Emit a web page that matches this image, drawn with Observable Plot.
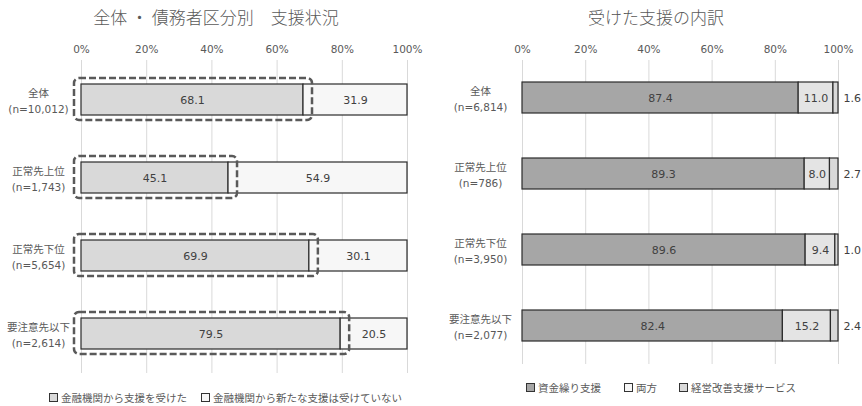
<!DOCTYPE html>
<html><head><meta charset="utf-8">
<script src="https://cdn.jsdelivr.net/npm/d3@7"></script>
<script src="https://cdn.jsdelivr.net/npm/@observablehq/plot@0.6"></script>
<style>
body{margin:0;background:#fff;font-family:"Noto Sans CJK JP",sans-serif;}
#wrap{position:relative;width:862px;height:406px;overflow:hidden;background:#fff;}
.panel{position:absolute;top:0;width:431px;height:406px;}
.title{position:absolute;top:4px;font-size:17px;font-weight:300;color:#595959;white-space:nowrap;transform:translateX(-50%);}
.chart{position:absolute;top:30px;left:0;}
.legend{position:absolute;left:0;width:431px;height:16px;font-size:10.5px;color:#595959;}
.item{position:absolute;top:0;display:flex;align-items:center;white-space:nowrap;height:16px;}
.sw{display:inline-block;width:7px;height:7px;border:1.2px solid #333;margin-right:3px;}
</style></head><body>
<div id="wrap">
  <div class="panel" id="pl" style="left:0">
    <div class="title" style="left:216px">全体 ・ 債務者区分別　支援状況</div>
    <div class="chart" id="cl"></div>
    <div class="legend" id="ll" style="top:389px"></div>
  </div>
  <div class="panel" id="pr" style="left:431px">
    <div class="title" style="left:225px">受けた支援の内訳</div>
    <div class="chart" id="cr"></div>
    <div class="legend" id="lr" style="top:379px"></div>
  </div>
</div>
<script>
const cats = ["全体", "正常先上位", "正常先下位", "要注意先以下"];
const xTicks = [0, 20, 40, 60, 80, 100];

// left chart
const leftN = ["10,012", "1,743", "5,654", "2,614"];
const received = [68.1, 45.1, 69.9, 79.5];
const notReceived = [31.9, 54.9, 30.1, 20.5];
const leftSeries = ["金融機関から支援を受けた", "金融機関から新たな支援は受けていない"];
const leftColors = ["#d9d9d9", "#f7f7f7"];

// right chart
const rightN = ["6,814", "786", "3,950", "2,077"];
const fundSupport = [87.4, 89.3, 89.6, 82.4];
const both = [11.0, 8.0, 9.4, 15.2];
const mgmtSupport = [1.6, 2.7, 1.0, 2.4];
const rightSeries = ["資金繰り支援", "両方", "経営改善支援サービス"];
const rightColors = ["#a6a6a6", "#e4e4e4", "#d9d9d9"];

const FONT = '"DejaVu Sans", "Noto Sans CJK JP", sans-serif';

const leftRows = cats.flatMap((c, i) => [
  {cat: c, series: leftSeries[0], value: received[i]},
  {cat: c, series: leftSeries[1], value: notReceived[i]}
]);
const leftCats = cats.map((c, i) => ({cat: c, label: `${c}\n(n=${leftN[i]})`, received: received[i]}));

const left = Plot.plot({
  width: 431, height: 346,
  marginTop: 30, marginBottom: 3, marginLeft: 81, marginRight: 24,
  style: {fontFamily: FONT, fontSize: "10.5px", color: "#595959", background: "transparent", overflow: "visible"},
  x: {domain: [0, 100], ticks: xTicks, tickFormat: d => d + "%", axis: "top", tickSize: 0, tickPadding: 8, label: null},
  y: {domain: cats, paddingInner: 0.6, paddingOuter: 0.3, axis: null},
  color: {domain: leftSeries, range: leftColors},
  marks: [
    Plot.gridX(xTicks, {stroke: "#d9d9d9", strokeOpacity: 1, strokeWidth: 1}),
    Plot.barX(leftRows, Plot.stackX({x: "value", y: "cat", fill: "series", stroke: "#2b2b2b", strokeWidth: 1.2})),
    Plot.text(leftRows, Plot.stackX({x: "value", y: "cat", z: "series", text: d => d.value.toFixed(1), fill: "#404040", fontSize: 11})),
    Plot.barX(leftCats, {x1: 0, x2: "received", y: "cat", fill: "none", stroke: "#595959", strokeWidth: 2.5,
      strokeDasharray: "7,3", rx: 5, insetLeft: -7, insetRight: -9, insetTop: -6, insetBottom: -5}),
    Plot.text(leftCats, {y: "cat", text: "label", frameAnchor: "left", dx: -43, textAnchor: "middle",
      fontSize: 10.5, lineHeight: 1.55, fill: "#595959"})
  ]
});
document.getElementById("cl").appendChild(left);

const rightRows = cats.flatMap((c, i) => [
  {cat: c, series: rightSeries[0], value: fundSupport[i]},
  {cat: c, series: rightSeries[1], value: both[i]},
  {cat: c, series: rightSeries[2], value: mgmtSupport[i]}
]);
const rightCats = cats.map((c, i) => ({cat: c, label: `${c}\n(n=${rightN[i]})`}));

const right = Plot.plot({
  width: 431, height: 337,
  marginTop: 30, marginBottom: 3, marginLeft: 91, marginRight: 24,
  style: {fontFamily: FONT, fontSize: "10.5px", color: "#595959", background: "transparent", overflow: "visible"},
  x: {domain: [0, 100], ticks: xTicks, tickFormat: d => d + "%", axis: "top", tickSize: 0, tickPadding: 8, label: null},
  y: {domain: cats, paddingInner: 0.59, paddingOuter: 0.295, axis: null},
  color: {domain: rightSeries, range: rightColors},
  marks: [
    Plot.gridX(xTicks, {stroke: "#d9d9d9", strokeOpacity: 1, strokeWidth: 1}),
    Plot.barX(rightRows, Plot.stackX({x: "value", y: "cat", fill: "series", stroke: "#2b2b2b", strokeWidth: 1.2})),
    Plot.text(rightRows, Plot.stackX({x: "value", y: "cat", z: "series",
      text: d => d.series === rightSeries[2] ? null : d.value.toFixed(1), fill: "#404040", fontSize: 11})),
    Plot.text(rightRows, Plot.stackX2({x: "value", y: "cat", z: "series",
      text: d => d.series === rightSeries[2] ? d.value.toFixed(1) : null, dx: 5, textAnchor: "start", fill: "#404040", fontSize: 11})),
    Plot.text(rightCats, {y: "cat", text: "label", frameAnchor: "left", dx: -42, textAnchor: "middle",
      fontSize: 10.5, lineHeight: 1.55, fill: "#595959"})
  ]
});
document.getElementById("cr").appendChild(right);

function legend(el, names, colors, xs) {
  names.forEach((n, i) => {
    const it = document.createElement("span");
    it.className = "item";
    it.style.left = xs[i] + "px";
    const sw = document.createElement("span");
    sw.className = "sw";
    sw.style.background = colors[i];
    it.appendChild(sw);
    it.appendChild(document.createTextNode(n));
    el.appendChild(it);
  });
}
legend(document.getElementById("ll"), leftSeries, leftColors, [49, 201]);
legend(document.getElementById("lr"), rightSeries, ["#a6a6a6", "#f7f7f7", "#d9d9d9"], [95, 193, 248]);
</script>
</body></html>
